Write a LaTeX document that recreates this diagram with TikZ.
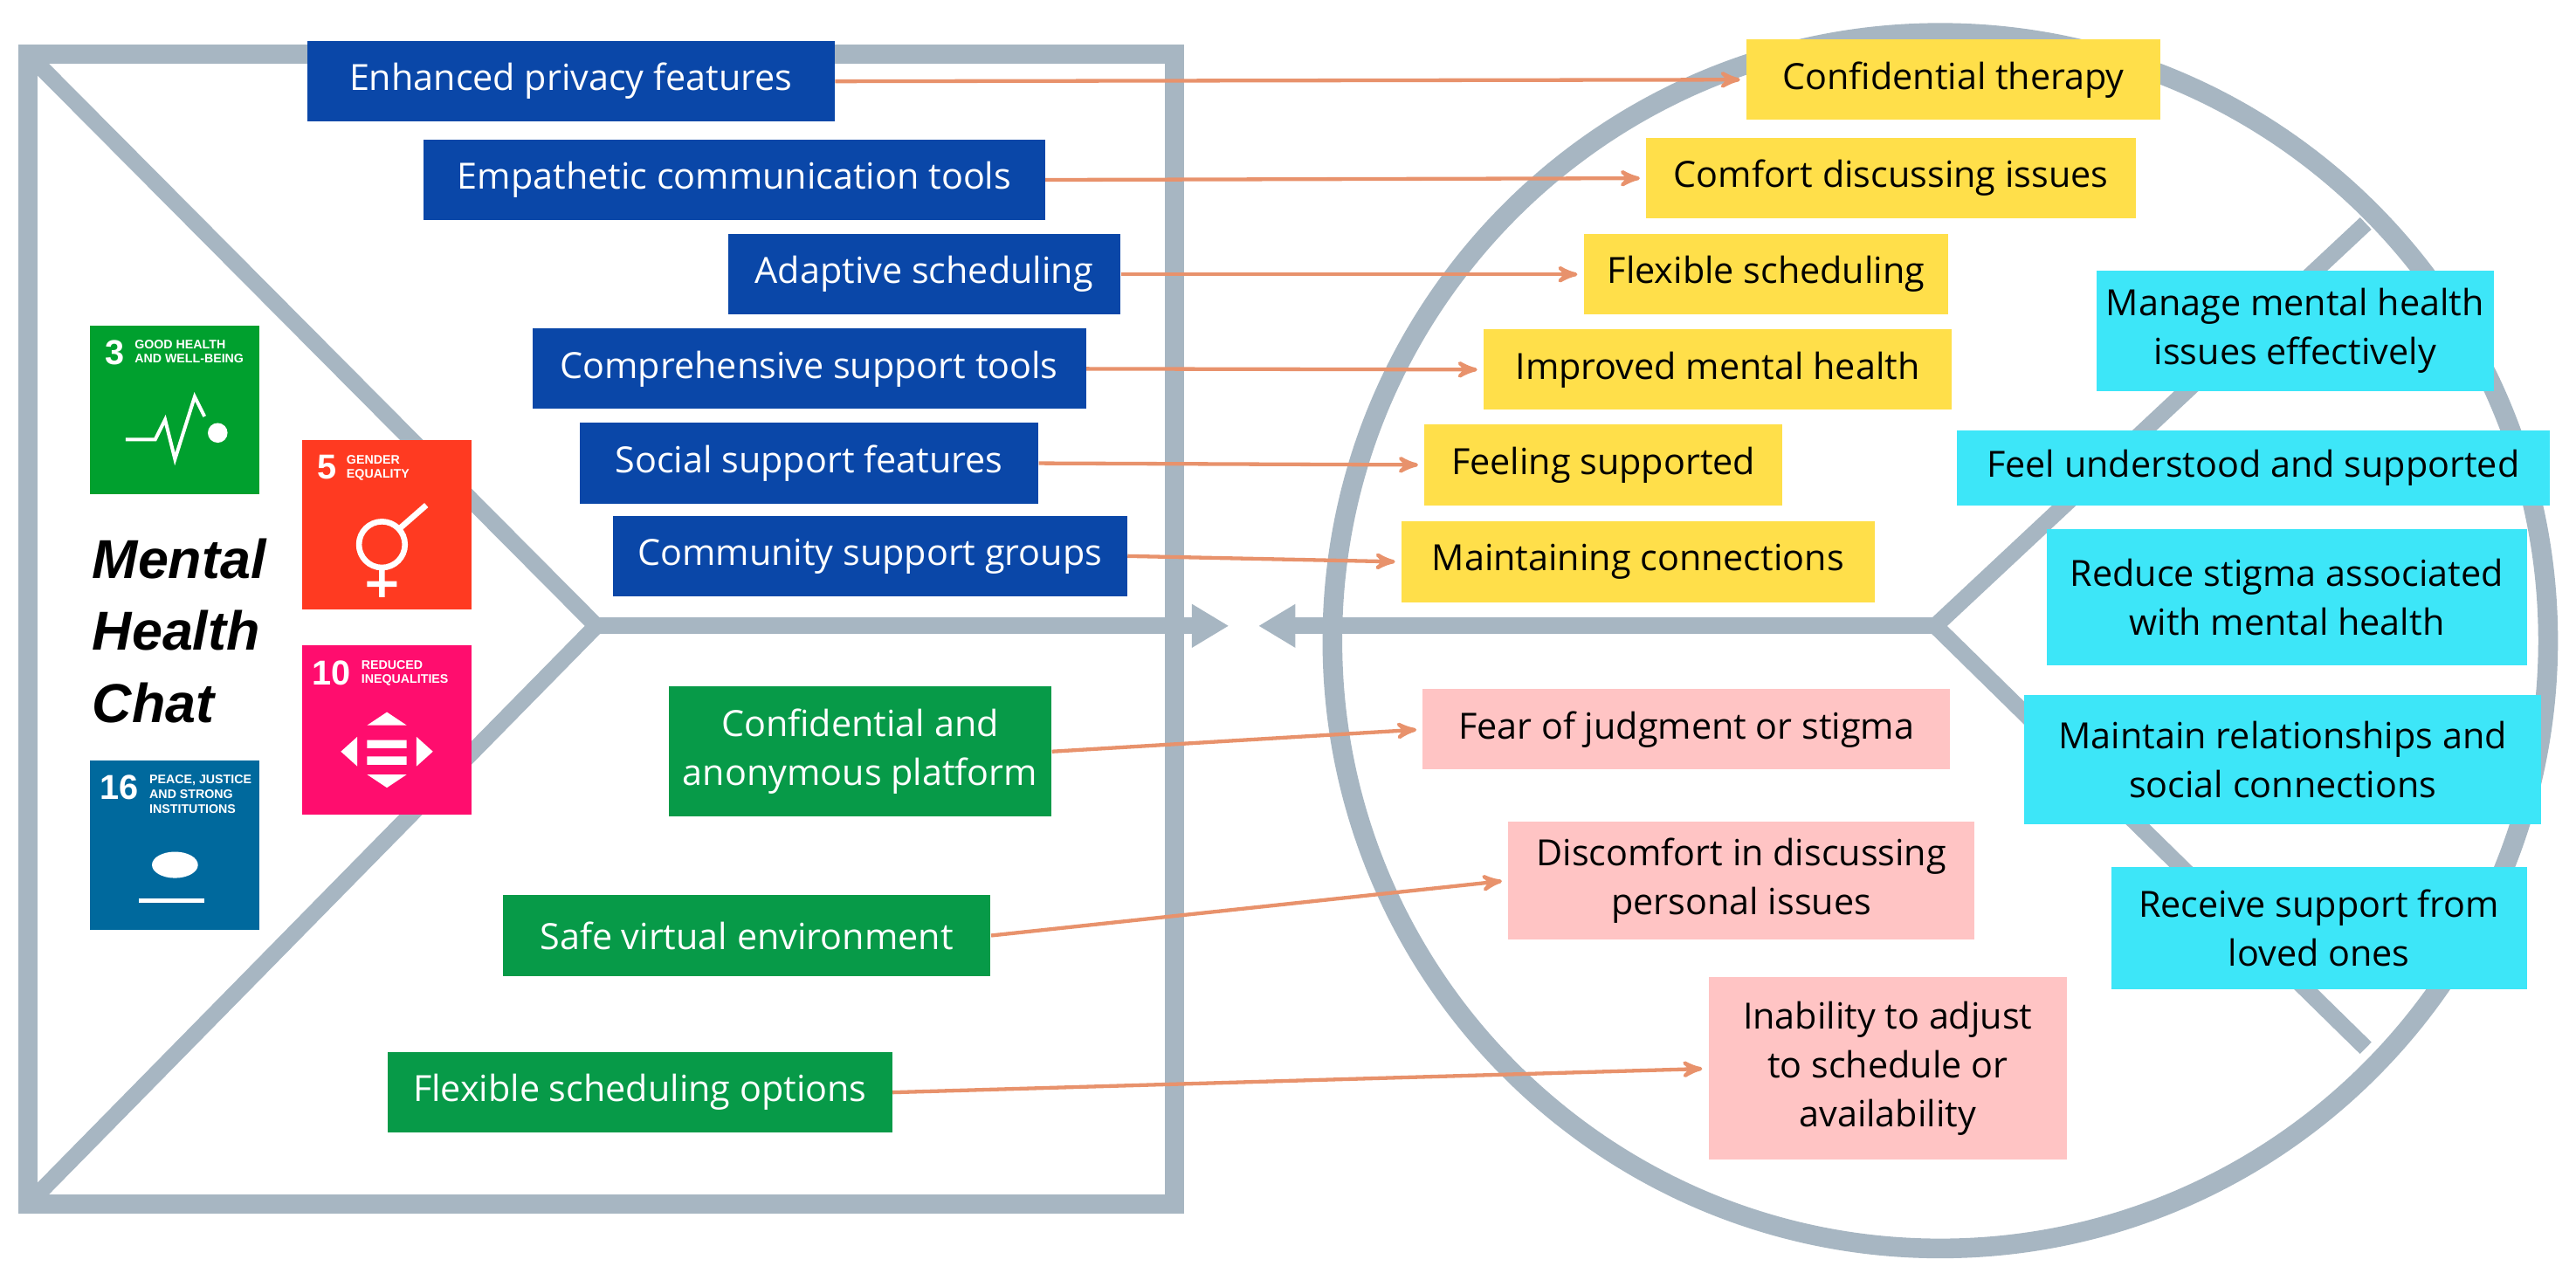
\documentclass[tikz,border=0pt]{standalone}
\usepackage{fontspec}
\setmainfont{Open Sans}
\newfontfamily\titlefont{Liberation Sans}
\usetikzlibrary{arrows}
\usetikzlibrary{arrows.meta}
\usetikzlibrary{calc}
\usetikzlibrary{positioning}
\definecolor{frame}{HTML}{A7B6C2}
\definecolor{featblue}{HTML}{0A47A8}
\definecolor{gainyel}{HTML}{FFDF4A}
\definecolor{relgreen}{HTML}{079A48}
\definecolor{painpink}{HTML}{FFC4C4}
\definecolor{jobcyan}{HTML}{3DE6F8}
\definecolor{link}{HTML}{E8926C}
\definecolor{sdgthree}{HTML}{00A02E}
\definecolor{sdgfive}{HTML}{FF3A21}
\definecolor{sdgten}{HTML}{FF0D6E}
\definecolor{sdgsixteen}{HTML}{00699D}
\tikzset{
  box/.style={inner sep=2pt, align=center, minimum height=0.98cm,
              font=\fontsize{12.5}{17}\selectfont},
  feature/.style={box, fill=featblue, text=white},
  gain/.style={box, fill=gainyel},
  reliever/.style={box, fill=relgreen, text=white},
  pain/.style={box, fill=painpink},
  job/.style={box, fill=jobcyan},
  link/.style={draw=link, line width=1.3pt, ->, >=stealth', shorten >=2pt},
  sdg/.style={minimum width=2.06cm, minimum height=2.06cm, inner sep=0pt},
  sdgtext/.style={text=white, font=\titlefont\bfseries\fontsize{4.3}{5}\selectfont,
                  align=left, anchor=north west, inner sep=0pt},
  sdgnum/.style={text=white, font=\titlefont\bfseries\fontsize{12}{12}\selectfont,
                 anchor=north west, inner sep=0pt}
}
\begin{document}
\begin{tikzpicture}[x=0.02cm, y=-0.02cm]
      \useasboundingbox (0,0) rectangle (1568,779);
      % value map frame and customer circle
      \draw[frame, line width=0.24cm] (17,33) rectangle (715,733);
      \draw[frame, line width=0.2cm] (17,33) -- (363,381) -- (17,733);
      \draw[frame, line width=0.24cm] (1181,390) circle (370);
      \coordinate (mapend) at (748,381);
      \coordinate (custend) at (766,381);
      \coordinate (split) at (1178,381);
      \draw[frame, line width=0.2cm, -{Triangle[length=0.45cm,width=0.5cm]}]
           (363,381) -- (mapend);
      \draw[frame, line width=0.2cm, -{Triangle[length=0.45cm,width=0.5cm]}]
           (split) -- (custend);
      \draw[frame, line width=0.2cm] (1440,136) -- (split) -- (1440,638);

      % SDG icons
      \node[sdg, fill=sdgthree] (sdg3) at (106.5,249.5) {};
      \node[sdg, fill=sdgfive] (sdg5) at (235.5,319.5) {};
      \node[sdg, fill=sdgten] (sdg10) at (235.5,444.5) {};
      \node[sdg, fill=sdgsixteen] (sdg16) at (106.5,514.5) {};
      \node[sdgnum] at ($(sdg3.north west)+(9,9)$) {3};
      \node[sdgtext] at ($(sdg3.north west)+(27,9)$) {GOOD HEALTH\\AND WELL-BEING};
      \node[sdgnum] at ($(sdg5.north west)+(9,9)$) {5};
      \node[sdgtext] at ($(sdg5.north west)+(27,9)$) {GENDER\\EQUALITY};
      \node[sdgnum] at ($(sdg10.north west)+(6,9)$) {10};
      \node[sdgtext] at ($(sdg10.north west)+(36,9)$) {REDUCED\\INEQUALITIES};
      \node[sdgnum] at ($(sdg16.north west)+(6,9)$) {16};
      \node[sdgtext] at ($(sdg16.north west)+(36,9)$) {PEACE, JUSTICE\\AND STRONG\\INSTITUTIONS};
      \draw[white, line width=1.2pt] ($(sdg3)+(-30,18)$) -- ($(sdg3)+(-12,18)$)
           -- ($(sdg3)+(-6,6)$) -- ($(sdg3)+(0,30)$) -- ($(sdg3)+(12,-8)$) -- ($(sdg3)+(18,4)$);
      \fill[white] ($(sdg3)+(26,14)$) circle (6);
      \draw[white, line width=2pt] ($(sdg5)+(-3,12)$) circle (14)
           ($(sdg5)+(-3,26)$) -- ($(sdg5)+(-3,44)$) ($(sdg5)+(-12,36)$) -- ($(sdg5)+(6,36)$)
           ($(sdg5)+(8,2)$) -- ($(sdg5)+(24,-12)$);
      \fill[white] ($(sdg10)+(-12,6)$) rectangle ($(sdg10)+(12,11)$)
           ($(sdg10)+(-12,16)$) rectangle ($(sdg10)+(12,21)$)
           ($(sdg10)+(-12,-3)$) -- ($(sdg10)+(0,-11)$) -- ($(sdg10)+(12,-3)$) -- cycle
           ($(sdg10)+(-12,27)$) -- ($(sdg10)+(0,35)$) -- ($(sdg10)+(12,27)$) -- cycle
           ($(sdg10)+(-28,13)$) -- ($(sdg10)+(-18,4)$) -- ($(sdg10)+(-18,22)$) -- cycle
           ($(sdg10)+(28,13)$) -- ($(sdg10)+(18,4)$) -- ($(sdg10)+(18,22)$) -- cycle;
      \fill[white] ($(sdg16)+(0,12)$) ellipse (14 and 8);
      \draw[white, line width=1.5pt] ($(sdg16)+(-22,34)$) -- ($(sdg16)+(18,34)$);

      \node[font=\titlefont\bfseries\itshape\fontsize{19}{25}\selectfont,
            align=left, anchor=west] (title) at (50,384) {Mental\\Health\\Chat};

      % products and services / gain creators
      \node[feature, minimum width=6.42cm] (privacy) at (347.5,49.5)
           {Enhanced privacy features};
      \node[feature, minimum width=7.56cm] (empathy) at (447,109.5)
           {Empathetic communication tools};
      \node[feature, minimum width=4.78cm] (adaptive) at (562.5,167)
           {Adaptive scheduling};
      \node[feature, minimum width=6.74cm] (tools) at (492.5,224.5)
           {Comprehensive support tools};
      \node[feature, minimum width=5.58cm] (social) at (492.5,282)
           {Social support features};
      \node[feature, minimum width=6.26cm] (groups) at (529.5,338.5)
           {Community support groups};

      \node[gain, minimum width=5.04cm] (therapy) at (1189,48.5)
           {Confidential therapy};
      \node[gain, minimum width=5.96cm] (comfort) at (1151,108.5)
           {Comfort discussing issues};
      \node[gain, minimum width=4.44cm] (flexible) at (1075,167)
           {Flexible scheduling};
      \node[gain, minimum width=5.7cm] (improved) at (1045.5,225)
           {Improved mental health};
      \node[gain, minimum width=4.36cm] (supported) at (976,283)
           {Feeling supported};
      \node[gain, minimum width=5.76cm] (connect) at (997,342)
           {Maintaining connections};

      % pain relievers / pains
      \node[reliever, minimum width=4.66cm, minimum height=1.58cm] (anon)
           at (523.5,457.5) {Confidential and\\anonymous platform};
      \node[reliever, minimum width=5.94cm] (safe) at (454.5,569.5)
           {Safe virtual environment};
      \node[reliever, minimum width=6.14cm] (options) at (389.5,665)
           {Flexible scheduling options};

      \node[pain, minimum width=6.42cm] (fear) at (1026.5,444)
           {Fear of judgment or stigma};
      \node[pain, minimum width=5.68cm, minimum height=1.44cm] (discomfort)
           at (1060,536) {Discomfort in discussing\\personal issues};
      \node[pain, minimum width=4.36cm, minimum height=2.22cm] (inability)
           at (1149,650.5) {Inability to adjust\\to schedule or\\availability};

      % customer jobs
      \node[job, minimum width=4.84cm, minimum height=1.46cm] (manage)
           at (1397,201.5) {Manage mental health\\issues effectively};
      \node[job, minimum width=7.22cm, minimum height=0.92cm] (understood)
           at (1371.5,285) {Feel understood and supported};
      \node[job, minimum width=5.84cm, minimum height=1.66cm] (stigma)
           at (1392,363.5) {Reduce stigma associated\\with mental health};
      \node[job, minimum width=6.3cm, minimum height=1.58cm] (relations)
           at (1389.5,462.5) {Maintain relationships and\\social connections};
      \node[job, minimum width=5.06cm, minimum height=1.48cm] (loved)
           at (1411.5,565) {Receive support from\\loved ones};

      \draw[link] (privacy.east) -- (therapy.west);
      \draw[link] (empathy.east) -- (comfort.west);
      \draw[link] (adaptive.east) -- (flexible.west);
      \draw[link] (tools.east) -- (improved.west);
      \draw[link] (social.east) -- (supported.west);
      \draw[link] (groups.east) -- (connect.west);
      \draw[link] (anon.east) -- (fear.west);
      \draw[link] (safe.east) -- (discomfort.west);
      \draw[link] (options.east) -- (inability.west);
    \end{tikzpicture}
\end{document}
